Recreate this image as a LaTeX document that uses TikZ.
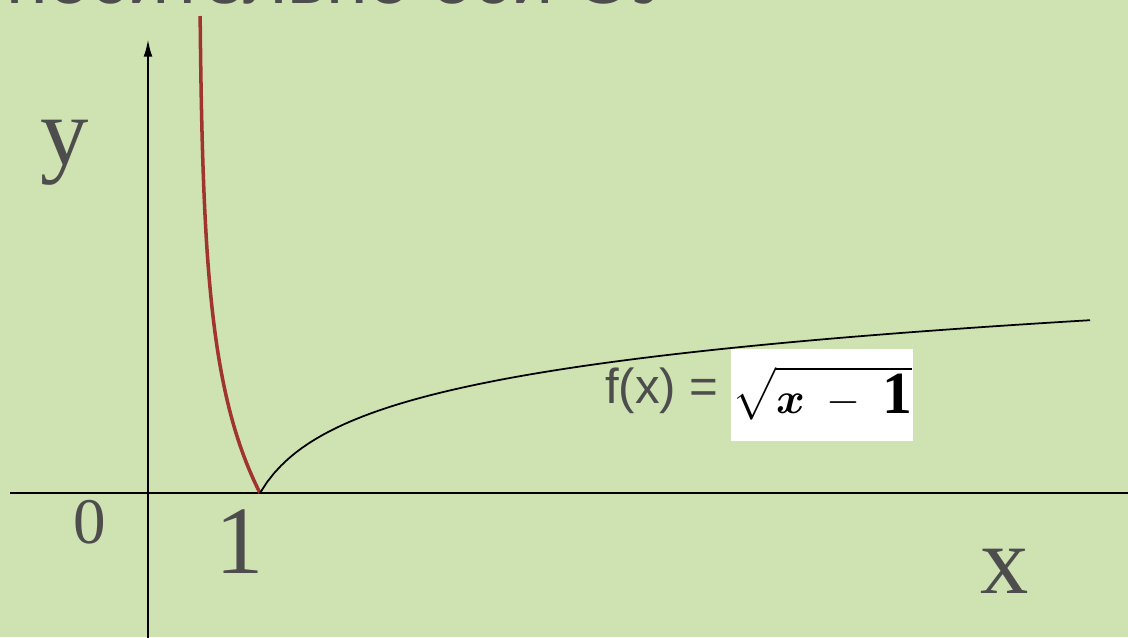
\documentclass[tikz,border=0pt]{standalone}
\usepackage{amsmath}
\usepackage{fontspec}
\setmainfont{Liberation Serif}
\newfontfamily\ruSans{Liberation Sans}
\usetikzlibrary{positioning,arrows.meta}
\definecolor{slidebg}{RGB}{207,226,177}
\definecolor{labelgray}{RGB}{77,77,77}
\definecolor{curvered}{RGB}{160,52,48}
\tikzset{
    axis/.style     = {line width=1.3pt, -{Latex[length=10pt,width=5pt]}},
    lbl/.style      = {text=labelgray, inner sep=0pt, anchor=base},
}
\begin{document}
\begin{tikzpicture}[x=0.02cm, y=-0.02cm]
        \useasboundingbox (0,0) rectangle (1128,637);
        \clip (0,0) rectangle (1128,637);
        \fill [slidebg] (0,0) rectangle (1128,637);
        % title, cut off at the top
        \node [lbl, anchor=base east]           (title) at (680,3)   {\ruSans\fontsize{43}{50}\selectfont относительно оси ОУ};
        % axes
        \coordinate (ybot)  at (148,640);
        \coordinate (ytop)  at (148,39);
        \coordinate (xleft) at (10,493);
        \coordinate (xright) at (1146,493);
        \coordinate (one)   at (260,493);
        \draw [axis] (ybot)  -- (ytop);
        \draw [axis] (xleft) -- (xright);
        % curves
        \draw [curvered, line width=2pt] plot [domain=0:477, samples=80] ({260-61*(1-exp(-\x/120))}, {493-\x});
        \draw [line width=1pt] plot [domain=0:830, samples=120] ({260+\x}, {493-51.5*ln(1+\x/30)});
        % labels
        \node [lbl]                             (ylbl)  at (65,164)  {\fontsize{55}{60}\selectfont y};
        \node [lbl]                             (zero)  at (90,543)  {\fontsize{37}{42}\selectfont 0};
        \node [lbl]                             (onelbl) at (240,573) {\fontsize{55}{60}\selectfont 1};
        \node [lbl]                             (xlbl)  at (1005,593) {\fontsize{55}{60}\selectfont x};
        \node [lbl, anchor=base east]           (fx)    at (719,403) {\ruSans\fontsize{28}{32}\selectfont f(x) =};
        \node [fill=white, minimum width=3.64cm, minimum height=1.84cm, inner sep=0pt,
               right=0.24cm of fx, yshift=-0.1cm] (root)
              {\raisebox{6pt}{\fontsize{34}{40}\selectfont $\sqrt{\boldsymbol{x}\;-\;\mathbf{1}}$}};
    \end{tikzpicture}
\end{document}
